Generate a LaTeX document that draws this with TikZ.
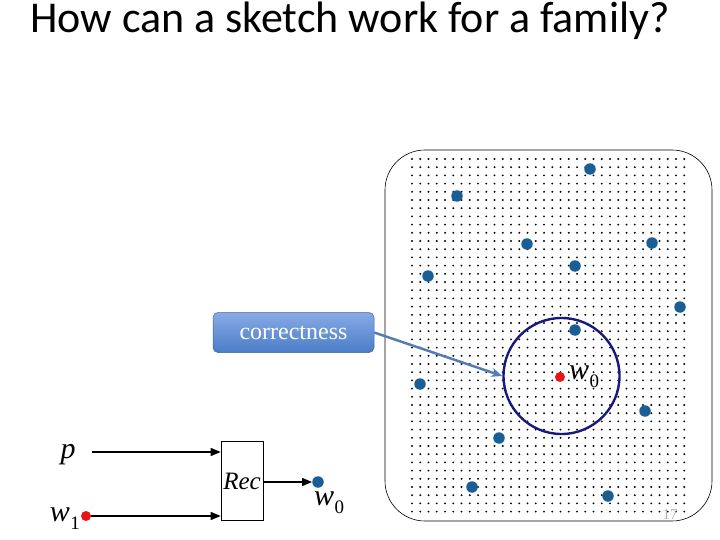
\documentclass[tikz,border=0pt]{standalone}
\usepackage{fontspec}
\setmainfont{Liberation Serif}
\newfontfamily\titlefont{Carlito}
\usetikzlibrary{arrows.meta}
\definecolor{dotblue}{RGB}{25,95,150}
\definecolor{dotred}{RGB}{235,20,20}
\definecolor{ringnavy}{RGB}{25,25,125}
\definecolor{arrblue}{RGB}{85,125,180}
\definecolor{boxtop}{RGB}{135,170,230}
\definecolor{boxbot}{RGB}{75,125,200}
\newcommand{\wsub}[1]{w\kern0.5pt\raisebox{-8pt}{\fontsize{19}{19}\selectfont\upshape #1}}
\begin{document}
\begin{tikzpicture}[x=1pt,y=-1pt,
  bluedot/.style={circle,fill=dotblue,inner sep=0pt,minimum size=11.5pt},
  reddot/.style={circle,fill=dotred,inner sep=0pt,minimum size=10pt},
  lbl/.style={font=\fontsize{30}{30}\selectfont\itshape,inner sep=0pt},
  blk/.style={-{Triangle[length=10pt,width=8pt]},line width=1.3pt},
]
\useasboundingbox (0,0) rectangle (720,540);
% title
\node[anchor=base west,inner sep=0pt,font=\titlefont\fontsize{44}{44}\selectfont] (title) at (30,33) {How can a sketch work for a family?};
% family region
\begin{scope}
\clip[rounded corners=40pt] (385,150) rectangle (712,521);
\foreach \i in {0,...,33}
  \foreach \j in {0,...,43}
    \fill (412+\i*8.25, 159+\j*8.2) circle (1.05);
\end{scope}
\draw[line width=0.6pt,rounded corners=40pt] (385,150) rectangle (712,521);
% blue points
\foreach \x/\y [count=\k] in {590/169,457/196,527/244,652/243,575/266,428/276,680/307,575/330,420/384,645/411,499/438,472/487,608/496}
  \node[bluedot] (b\k) at (\x,\y) {};
% ring and centre
\node[circle,draw=ringnavy,line width=2.4pt,minimum size=116pt,inner sep=0pt] (ring) at (561.5,376) {};
\node[reddot] (w0c) at (560,377) {};
\node[lbl,anchor=base west] (w0l) at (569,379) {\wsub{0}};
% correctness callout
\node[rounded corners=5pt,top color=boxtop,bottom color=boxbot,draw=boxbot!80!black,line width=0.5pt,
  minimum width=161pt,minimum height=40pt,text=white,font=\fontsize{24}{24}\selectfont] (corr) at (293.5,332.5) {correctness};
\draw[arrblue,line width=2.5pt,-{Stealth[length=11pt,width=9pt]}] (corr.east) -- (ring.west);
% recovery block
\node[draw,line width=0.6pt,minimum width=42pt,minimum height=79pt,inner sep=0pt] (rec) at (242,480.5) {};
\node[font=\fontsize{25}{25}\selectfont\itshape,inner sep=0pt] (recl) at (242,481) {Rec};
\node[lbl,anchor=base] (p) at (68,458) {p};
\node[reddot] (w1) at (86,516) {};
\node[lbl,anchor=base east] (w1l) at (80,521) {\wsub{1}};
\coordinate (pstart) at (92,452);
\draw[blk] (pstart) -- (rec.west |- pstart);
\draw[blk] (w1) -- (rec.west |- w1);
\node[bluedot] (out) at (318,482) {};
\draw[blk] (rec.east |- out) -- (out);
\node[lbl,anchor=base west] (w0o) at (314,505) {\wsub{0}};
% page number
\node[text=gray!60,font=\fontsize{15}{15}\selectfont,inner sep=0pt] (pg) at (670,515) {17};
\end{tikzpicture}
\end{document}
